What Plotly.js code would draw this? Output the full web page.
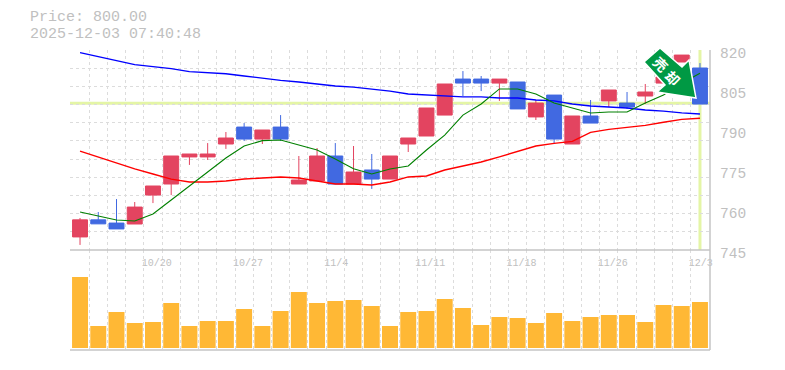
<!DOCTYPE html>
<html><head><meta charset="utf-8">
<script src="https://cdn.plot.ly/plotly-3.0.1.min.js"></script>
<style>html,body{margin:0;padding:0;background:#fff}#c{width:785px;height:370px}</style>
</head><body><div id="c"></div>
<script>
const open_ = [749.9,756.3,755.1,754.75,765.6,769.75,779.9,779.9,784.75,791.1,786.6,791.1,769.75,770.9,780.25,769.75,775,771.6,784.75,787.75,795.6,809.1,809.1,807.6,808,794.9,803.1,784.75,795.25,800.9,800.1,802.75,807.6,815.5,813.25];
const high_ = [757,759.25,764.1,763,769,780.25,781,785.1,789.25,792.6,790,795.6,780.25,783.25,785.1,784,781,780.25,787,798.25,807.25,812.1,810.25,809.1,808,801.25,803.1,795.25,801.25,805,804.25,807.25,809.9,818.1,815.1];
const low_ = [746.9,754.8,752.9,754.75,762.6,765.6,776.9,778.75,782.9,785.9,784.75,785.9,769.75,770.9,769.75,769.75,767.9,771.6,781.75,787.75,795.6,802.75,804.6,800.9,797.9,793.75,784.75,784.75,792.6,798.6,797.9,799.75,807.6,815.5,799.75];
const close_ = [756.3,754.8,752.9,761.1,769,780.25,781,781,787,786.6,790,786.6,771.25,780.25,769.75,774.25,771.6,780.25,787,798.25,807.25,807.6,807.6,809.1,797.9,800.1,786.6,795.25,792.6,805,798.6,804.25,809.9,818.1,799.75];
const ma5 = [759.25,757.75,756.25,755.9,758.5,763.75,769,774.5,779.5,784,786,786.25,784.5,782.5,779.1,775.5,773.5,775.4,776.5,782.5,788.1,795.6,799.75,805.4,805.4,803.5,800.1,798.25,796.4,796.75,796.75,800.1,803.1,807.5,811.25];
const ma25 = [782.1,779.9,777.6,775.4,773.5,771.6,770.5,770.5,770.9,771.6,772,772.4,772,770.9,769.75,769.75,769.4,770.5,772.4,772.75,775,776.5,778,779.9,782.1,784,785,785.75,789.1,790.25,791,791.75,792.9,794,794.4];
const ma75 = [819,817.5,816,814.5,813.75,813,811.9,811.5,811.1,810.25,809.4,808.6,808,807.25,806.5,806.1,805.4,804.6,803.5,803.1,802.75,802.4,802.4,802,802,801.25,800.9,799.75,799,798.6,798.25,797.5,797.1,796.4,796];
const volume = [71,22,36,25,26,45,22,27,27,39,22,37,56,45,47,48,42,22,36,37,49,40,23,31,30,25,35,27,31,33,33,26,43,42,46];
const index = open_.map((_, i) => i);
const dateLabels = {4:'10/20',9:'10/27',14:'11/4',19:'11/11',24:'11/18',29:'11/26',34:'12/3'};
const priceTicks = [745,760,775,790,805,820];
const lastPrice = 800;
const priceText = 'Price: 800.00';
const timeText = '2025-12-03 07:40:48';
const arrowChars = ['売','却'];

const gridX = [], gridText = [];
for (let i = 0; i <= 35; i++) { gridX.push(i - 0.5); gridText.push(dateLabels[i] || ''); }
const gridY = [];
for (let i = 0; i <= 11; i++) gridY.push(745 + i * 75 / 11);

const lbl = '#c0c0c0', grid = '#dcdcdc', frame = '#c4c4c4', hl = '#e4f5a6';
const px = (x) => (x - 70) / 640, py = (y) => 1 - (y - 50) / 300;
const mono = 'Liberation Mono, monospace';

const line = (y, c, w) => ({type:'scatter', mode:'lines', x:index, y, xaxis:'x', yaxis:'y',
  line:{color:c, width:w, shape:'linear'}, hoverinfo:'skip', showlegend:false});

const traces = [
  line(ma75, '#0000ff', 1.3),
  line(ma25, '#ff0000', 1.4),
  line(ma5, '#008000', 1.1),
  {type:'candlestick', x:index, open:open_, high:high_, low:low_, close:close_, xaxis:'x', yaxis:'y',
   increasing:{line:{color:'#e34460', width:1}, fillcolor:'#e34460'},
   decreasing:{line:{color:'#4169e1', width:1}, fillcolor:'#4169e1'},
   whiskerwidth:0, showlegend:false, hoverinfo:'skip'},
  {type:'bar', x:index, y:volume, xaxis:'x', yaxis:'y2', width:0.875,
   marker:{color:'#ffb835', line:{width:0}}, showlegend:false, hoverinfo:'skip'},
  {type:'scatter', mode:'markers', x:[0], y:[800], xaxis:'x', yaxis:'y3',
   marker:{opacity:0, size:1}, showlegend:false, hoverinfo:'skip'}
];

const frameLine = (x0,y0,x1,y1) => ({type:'line', xref:'paper', yref:'paper', x0, y0, x1, y1,
  line:{color:frame, width:1.5}, layer:'above'});

const layout = {
  width:785, height:370, margin:{l:70, r:75, t:50, b:20},
  paper_bgcolor:'#fff', plot_bgcolor:'#fff', showlegend:false, boxgap:0.18, boxgroupgap:0,
  xaxis:{domain:[0,1], range:[-0.55,34.55], anchor:'y', tickmode:'array', tickvals:gridX, ticktext:gridText,
    ticklabelposition:'outside right', tickangle:0, showgrid:true, gridcolor:grid, griddash:'3px,3px', gridwidth:1,
    ticks:'', zeroline:false, showline:false, rangeslider:{visible:false},
    ticklabelshift:-2, ticklabelstandoff:5,
    tickfont:{family:mono, size:10, color:lbl}, ticklabeloverflow:'allow'},
  yaxis:{domain:[1/3,1], range:[745,820], tickmode:'array', tickvals:gridY, ticktext:gridY.map(()=>''),
    showgrid:true, gridcolor:grid, griddash:'3px,3px', gridwidth:1, zeroline:false, showline:false, ticks:''},
  yaxis2:{domain:[0,1/3], range:[-2,98], showgrid:false, showticklabels:false, zeroline:false, ticks:''},
  yaxis3:{overlaying:'y', side:'right', range:[745,820], tickmode:'array', tickvals:priceTicks, ticktext:priceTicks.map(String),
    showgrid:false, zeroline:false, ticks:'', ticklabelshift:3, ticklabelstandoff:9, anchor:'x',
    tickfont:{family:mono, size:14.5, color:lbl}},
  shapes:[
    {type:'line', xref:'paper', yref:'y', x0:0, x1:1, y0:lastPrice, y1:lastPrice, line:{color:hl, width:3}, layer:'below'},
    {type:'line', xref:'x', yref:'y', x0:34, x1:34, y0:745, y1:820, line:{color:hl, width:3}, layer:'below'},
    frameLine(0,py(250),1,py(250)),
    frameLine(0,py(350),1,py(350)),
    frameLine(1,py(50),1,py(350)),
    {type:'path', xref:'paper', yref:'paper', layer:'above', fillcolor:'#009944', line:{color:'#fff', width:1.5},
     path:[[660,48],[682,67],[689,60],[696,98],[657,92],[665,85],[644,62]].map((p,i)=>(i?'L':'M')+px(p[0])+' '+py(p[1])).join(' ')+' Z'}
  ],
  annotations:[
    {xref:'paper', yref:'paper', x:px(28), y:py(17.5), xanchor:'left', yanchor:'middle', text:priceText, showarrow:false,
     font:{family:mono, size:15, color:lbl}},
    {xref:'paper', yref:'paper', x:px(28), y:py(34.5), xanchor:'left', yanchor:'middle', text:timeText, showarrow:false,
     font:{family:mono, size:15, color:lbl}},
    {xref:'paper', yref:'paper', x:px(661), y:py(64), xanchor:'center', yanchor:'middle', text:'<b>'+arrowChars[0]+'</b>', showarrow:false,
     textangle:45, font:{family:'Noto Sans CJK JP', size:14, color:'#fff'}},
    {xref:'paper', yref:'paper', x:px(673), y:py(78), xanchor:'center', yanchor:'middle', text:'<b>'+arrowChars[1]+'</b>', showarrow:false,
     textangle:45, font:{family:'Noto Sans CJK JP', size:14, color:'#fff'}}
  ]
};
Plotly.newPlot('c', traces, layout, {staticPlot:true, displayModeBar:false});
</script></body></html>
